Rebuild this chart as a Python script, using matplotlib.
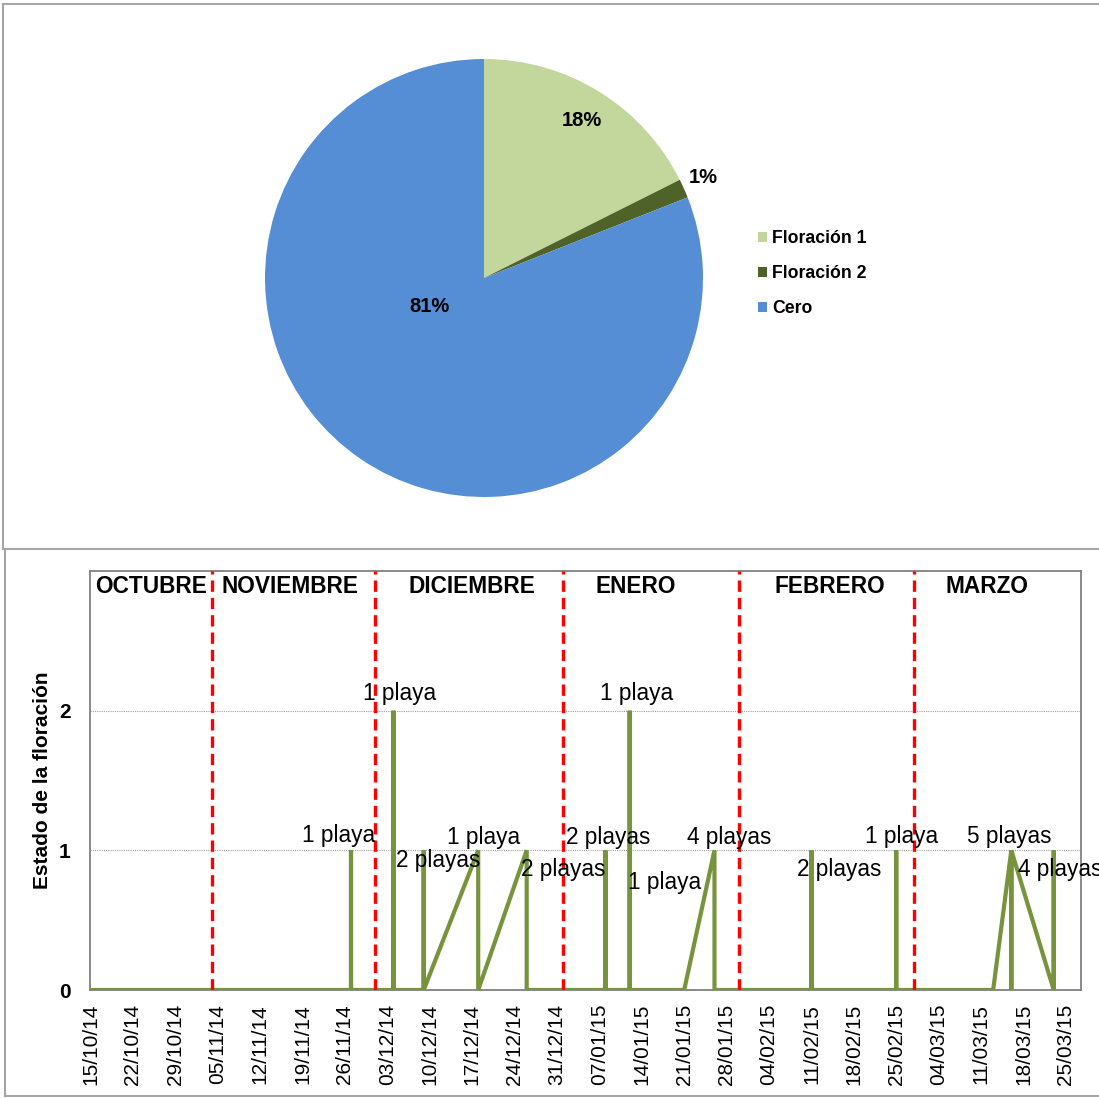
import numpy as np
import matplotlib.pyplot as plt
import matplotlib.dates as mdates
from matplotlib.lines import Line2D
from matplotlib.patches import Patch
from datetime import datetime, timedelta

plt.rcParams['font.family'] = ['Liberation Sans', 'DejaVu Sans']

# pie data (% of samples)
pie_labels = ["Floración 1", "Floración 2", "Cero"]
pie_values = [17.6, 1.4, 81.0]
pie_colors = ["#C3D69B", "#4F6228", "#558ED5"]

# flowering state per sampling entry (several entries share a date)
fechas = ["15/10/14",
          "27/11/14", "27/11/14", "27/11/14",
          "04/12/14", "04/12/14", "04/12/14",
          "09/12/14", "09/12/14", "09/12/14",
          "18/12/14", "18/12/14",
          "26/12/14", "26/12/14",
          "08/01/15", "08/01/15", "08/01/15",
          "12/01/15", "12/01/15", "12/01/15",
          "21/01/15",
          "26/01/15", "26/01/15",
          "11/02/15", "11/02/15", "11/02/15",
          "25/02/15", "25/02/15", "25/02/15",
          "13/03/15",
          "16/03/15", "16/03/15", "16/03/15",
          "23/03/15", "23/03/15", "23/03/15"]
estado = [0,
          0, 1, 0,
          0, 2, 0,
          0, 1, 0,
          1, 0,
          1, 0,
          0, 1, 0,
          0, 2, 0,
          0,
          1, 0,
          0, 1, 0,
          0, 1, 0,
          0,
          1, 0, 1,
          0, 1, 0]

# data labels: date, value, text, offset in pixels
etiquetas = [("27/11/14", 1, "1 playa", (-12, 15)),
             ("04/12/14", 2, "1 playa", (6, 17)),
             ("09/12/14", 1, "2 playas", (14, -10)),
             ("18/12/14", 1, "1 playa", (5, 13)),
             ("26/12/14", 1, "2 playas", (37, -19)),
             ("08/01/15", 1, "2 playas", (3, 13)),
             ("12/01/15", 2, "1 playa", (7, 17)),
             ("26/01/15", 1, "1 playa", (-50, -32)),
             ("26/01/15", 1, "4 playas", (15, 13)),
             ("11/02/15", 1, "2 playas", (28, -19)),
             ("25/02/15", 1, "1 playa", (5, 14)),
             ("16/03/15", 1, "5 playas", (-2, 14)),
             ("23/03/15", 1, "4 playas", (6, -19))]

# month boundaries and month names
cortes = ["04/11/14", "01/12/14", "01/01/15", "30/01/15", "28/02/15"]
meses = ["OCTUBRE", "NOVIEMBRE", "DICIEMBRE", "ENERO", "FEBRERO", "MARZO"]
meses_x = ["25/10/14", "17/11/14", "17/12/14", "13/01/15", "14/02/15", "12/03/15"]


def fecha(s):
    return datetime.strptime(s, "%d/%m/%y")


W, H = 1099, 1098
fig = plt.figure(figsize=(W / 100, H / 100), dpi=100)

# panel frames
gris = "#A6A6A6"
fig.add_artist(Line2D([3 / W, 3 / W], [1 - 4 / H, 1 - 549 / H], color=gris, lw=1.5))
fig.add_artist(Line2D([3 / W, 1.0], [1 - 4 / H, 1 - 4 / H], color=gris, lw=1.5))
fig.add_artist(Line2D([3 / W, 1.0], [1 - 549 / H, 1 - 549 / H], color=gris, lw=1.5))
fig.add_artist(Line2D([5 / W, 5 / W], [1 - 549 / H, 1 - 1096 / H], color=gris, lw=1.5))
fig.add_artist(Line2D([5 / W, 1.0], [1 - 1096 / H, 1 - 1096 / H], color=gris, lw=1.5))

# ---- pie ----
cx, cy, r = 484, 278, 219
axp = fig.add_axes([(cx - r) / W, 1 - (cy + r) / H, 2 * r / W, 2 * r / H])
wedges, _ = axp.pie(pie_values, colors=pie_colors, startangle=90, counterclock=False,
                    radius=1, wedgeprops=dict(linewidth=0))
axp.set_xlim(-1, 1)
axp.set_ylim(-1, 1)
pct_pos = [(0.447, 0.72), (1.0, 0.46), (-0.251, -0.132)]
for v, (px, py) in zip(pie_values, pct_pos):
    axp.text(px, py, f"{v:.0f}%", ha="center", va="center", fontsize=14.5,
             fontweight="bold", color="black")

handles = [Patch(facecolor=c, edgecolor="none") for c in pie_colors]
fig.legend(handles, pie_labels, loc="upper left", bbox_to_anchor=(758 / W, 1 - 230 / H),
           frameon=False, prop=dict(size=12.7, weight="bold"), handlelength=0.5,
           handleheight=0.5, handletextpad=0.3, labelspacing=1.02, borderpad=0,
           borderaxespad=0)

# ---- line chart ----
ax = fig.add_axes([90 / W, 1 - 990 / H, (1081 - 90) / W, (990 - 571) / H])
x = [fecha(s) for s in fechas]
ax.plot(x, estado, color="#77933C", lw=3, solid_joinstyle="miter", zorder=3)

for c in cortes:
    ax.axvline(fecha(c), color="red", lw=2.4, dashes=(3.4, 1.8), zorder=4)

for s, v, t, (dx, dy) in etiquetas:
    ax.annotate(t, xy=(fecha(s), v), xytext=(dx, dy), textcoords="offset pixels",
                ha="center", va="center", fontsize=16.3, color="black",
                annotation_clip=False, zorder=5)

for m, s in zip(meses, meses_x):
    ax.text(fecha(s), 0.964, m, transform=ax.get_xaxis_transform(), ha="center",
            va="center", fontsize=16.3, fontweight="bold", zorder=6)

d0 = fecha("15/10/14")
ax.set_xlim(d0 - timedelta(hours=2), d0 + timedelta(days=163.5))
ax.set_ylim(0, 3)
ax.set_yticks([0, 1, 2])
ax.set_xticks([d0 + timedelta(days=7 * i) for i in range(24)])
ax.xaxis.set_major_formatter(mdates.DateFormatter("%d/%m/%y"))
ax.tick_params(axis="x", length=0, pad=10, labelsize=15, rotation=90)
ax.tick_params(axis="y", length=0, pad=14, labelsize=15)
for lab in ax.get_yticklabels():
    lab.set_fontweight("bold")
ax.grid(axis="y", color="#A0A0A0", lw=0.8, ls=(0, (1, 1)))
ax.set_axisbelow(True)
for sp in ax.spines.values():
    sp.set_color("#808080")
    sp.set_linewidth(1.3)
ax.set_ylabel("Estado de la floración", fontsize=15, fontweight="bold", labelpad=5)

fig.savefig("out.png", dpi=100)
